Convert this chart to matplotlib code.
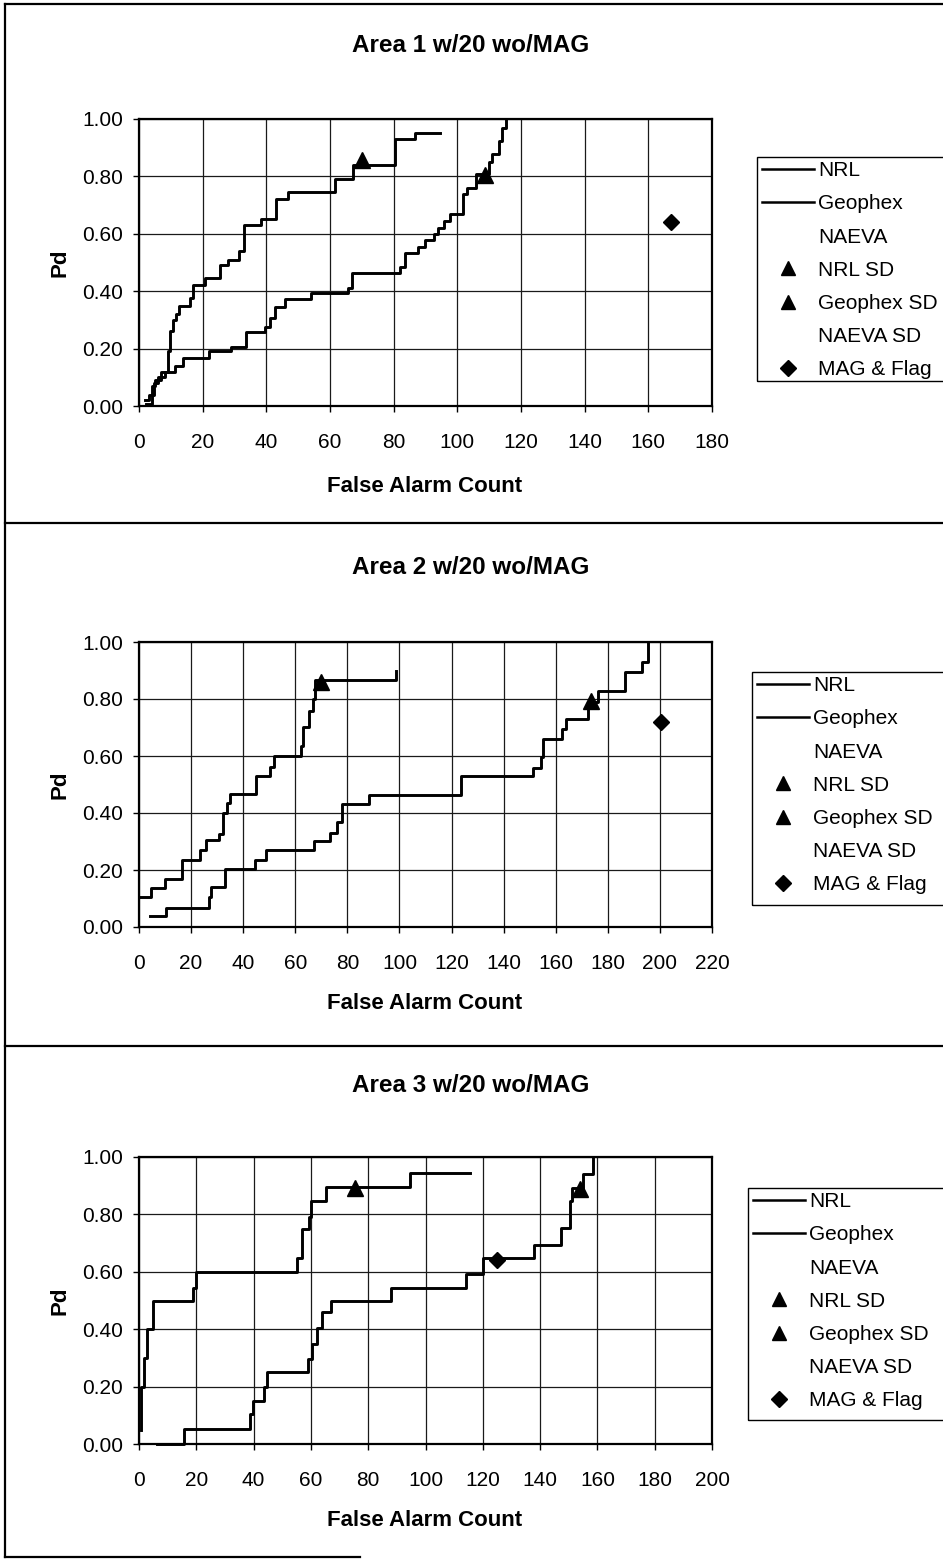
import numpy as np
import matplotlib
matplotlib.use("Agg")
import matplotlib.pyplot as plt
from matplotlib.lines import Line2D
from matplotlib.patches import Rectangle

plt.rcParams['font.family'] = ['Liberation Sans', 'DejaVu Sans']

W, H = 943, 1560

# ---- Area 1 -------------------------------------------------------------
a1_nrl_x = [2, 3, 4, 5, 7, 9, 9.8, 10.8, 11.6, 12.6, 15.9, 16.9, 20.6, 25.5,
            28.1, 31.4, 32.9, 38.2, 43, 46.8, 61.7, 67.1, 80.4, 86.8, 94.6]
a1_nrl_y = [0.02, 0.04, 0.07, 0.09, 0.12, 0.19, 0.26, 0.30, 0.32, 0.35, 0.375,
            0.42, 0.445, 0.49, 0.51, 0.54, 0.63, 0.65, 0.72, 0.745, 0.79, 0.84,
            0.93, 0.952, 0.952]
a1_geo_x = [2.3, 4.2, 4.8, 6, 8.1, 11.4, 13.9, 21.9, 28.8, 33.5, 39.7, 41, 42.7,
            45.8, 53.9, 65.8, 66.8, 81.9, 83.6, 87.7, 89.7, 92.6, 94, 95.9, 97.8,
            101.7, 103, 105.8, 110, 111, 113, 114, 115.2]
a1_geo_y = [0.007, 0.04, 0.08, 0.10, 0.12, 0.14, 0.168, 0.19, 0.207, 0.257,
            0.276, 0.305, 0.346, 0.372, 0.395, 0.41, 0.465, 0.485, 0.532, 0.555,
            0.578, 0.60, 0.62, 0.646, 0.67, 0.737, 0.76, 0.81, 0.85, 0.878, 0.923,
            0.967, 1.0]
a1_nrl_sd = (70.0, 0.857)
a1_geo_sd = (108.8, 0.805)
a1_mag = (167.0, 0.642)
a1_xmax = 180

# ---- Area 2 -------------------------------------------------------------
a2_nrl_x = [0, 4.6, 9.8, 16.7, 23.5, 25.6, 30.6, 32.2, 33.8, 35, 44.8, 50.3,
            51.9, 62.1, 62.8, 65.3, 66.9, 67.7, 98.7]
a2_nrl_y = [0.104, 0.137, 0.169, 0.236, 0.269, 0.304, 0.328, 0.40, 0.434, 0.465,
            0.53, 0.56, 0.60, 0.634, 0.703, 0.758, 0.80, 0.865, 0.90]
a2_geo_x = [4.1, 10.4, 26.7, 27.5, 33.0, 44.5, 48.6, 67.2, 73.2, 76, 78, 88.2,
            123.7, 151.3, 154.4, 155.2, 162.3, 163.9, 172.3, 176.3, 186.6, 193,
            195.4]
a2_geo_y = [0.037, 0.068, 0.104, 0.139, 0.204, 0.236, 0.269, 0.302, 0.33, 0.369,
            0.432, 0.463, 0.531, 0.558, 0.597, 0.658, 0.693, 0.729, 0.788, 0.829,
            0.894, 0.929, 1.0]
a2_nrl_sd = (69.7, 0.858)
a2_geo_sd = (173.5, 0.794)
a2_mag = (200.5, 0.72)
a2_xmax = 220

# ---- Area 3 -------------------------------------------------------------
a3_nrl_x = [0.8, 0.8, 1.7, 2.7, 4.9, 19, 20, 55, 56.8, 59.4, 60, 65.2, 94.7, 115.6]
a3_nrl_y = [0.05, 0.197, 0.30, 0.40, 0.50, 0.545, 0.60, 0.647, 0.748, 0.79,
            0.847, 0.896, 0.944, 0.944]
a3_geo_x = [6.3, 15.7, 38.8, 39.8, 43.8, 44.8, 59, 60.4, 62.3, 64, 66.9, 88.1,
            114, 120, 138, 147.2, 150.3, 151, 154.9, 158.5]
a3_geo_y = [0.0, 0.052, 0.104, 0.15, 0.20, 0.25, 0.295, 0.35, 0.405, 0.46, 0.50,
            0.545, 0.594, 0.647, 0.694, 0.754, 0.846, 0.893, 0.94, 1.0]
a3_nrl_sd = (75.3, 0.893)
a3_geo_sd = (154.1, 0.887)
a3_mag = (124.9, 0.64)
a3_xmax = 200

titles = ["Area 1 w/20 wo/MAG", "Area 2 w/20 wo/MAG", "Area 3 w/20 wo/MAG"]
legend_labels = ["NRL", "Geophex", "NAEVA", "NRL SD", "Geophex SD",
                 "NAEVA SD", "MAG & Flag"]
y_ticks = [0.0, 0.2, 0.4, 0.6, 0.8, 1.0]
x_label = "False Alarm Count"
y_label = "Pd"

FS = 15


def fx(px):
    return px / W


def fy(py):
    return 1 - py / H


fig = plt.figure(figsize=(W / 100, H / 100), dpi=100)
fig.patch.set_facecolor("white")

panels = [
    dict(nrl=(a1_nrl_x, a1_nrl_y), geo=(a1_geo_x, a1_geo_y), nsd=a1_nrl_sd,
         gsd=a1_geo_sd, mag=a1_mag, xmax=a1_xmax,
         top=119, bottom=406, title_y=45, xl_y=487, leg=(757, 157, 381)),
    dict(nrl=(a2_nrl_x, a2_nrl_y), geo=(a2_geo_x, a2_geo_y), nsd=a2_nrl_sd,
         gsd=a2_geo_sd, mag=a2_mag, xmax=a2_xmax,
         top=642, bottom=927, title_y=567, xl_y=1003, leg=(752, 672, 905)),
    dict(nrl=(a3_nrl_x, a3_nrl_y), geo=(a3_geo_x, a3_geo_y), nsd=a3_nrl_sd,
         gsd=a3_geo_sd, mag=a3_mag, xmax=a3_xmax,
         top=1157, bottom=1444, title_y=1085, xl_y=1521, leg=(748, 1188, 1420)),
]

LEFT, RIGHT = 139, 712

for title, p in zip(titles, panels):
    ax = fig.add_axes([fx(LEFT), fy(p["bottom"]), (RIGHT - LEFT) / W,
                       (p["bottom"] - p["top"]) / H])
    ax.set_xlim(0, p["xmax"])
    ax.set_ylim(0, 1.0)
    ax.set_xticks(np.arange(0, p["xmax"] + 1, 20))
    ax.set_yticks(y_ticks)
    ax.set_yticklabels([f"{v:.2f}" for v in y_ticks])
    ax.grid(True, color="#1a1a1a", lw=0.9)
    ax.set_axisbelow(True)
    ax.tick_params(axis="both", direction="out", length=4.5, width=1.0,
                   labelsize=FS, colors="black")
    ax.tick_params(axis="x", pad=15)
    ax.tick_params(axis="y", pad=7)
    for s in ax.spines.values():
        s.set_linewidth(1.6)
        s.set_color("black")

    ax.step(*p["nrl"], where="post", color="black", lw=2.1, clip_on=False)
    ax.step(*p["geo"], where="post", color="black", lw=2.1, clip_on=False)
    ax.plot(*p["nsd"], marker="^", ms=11, color="black", ls="none",
            clip_on=False)
    ax.plot(*p["gsd"], marker="^", ms=11, color="black", ls="none",
            clip_on=False)
    ax.plot(*p["mag"], marker="D", ms=8.5, color="black", ls="none",
            clip_on=False)

    fig.text(fx(471), fy(p["title_y"]), title, ha="center", va="center",
             fontsize=17.5, fontweight="bold")
    fig.text(fx(425), fy(p["xl_y"]), x_label, ha="center", va="center",
             fontsize=16, fontweight="bold")
    fig.text(fx(60), fy((p["top"] + p["bottom"]) / 2), y_label, ha="center",
             va="center", rotation=90, fontsize=16, fontweight="bold")

    handles = [
        Line2D([], [], color="black", lw=1.8),
        Line2D([], [], color="black", lw=1.8),
        Line2D([], [], color="none", lw=1.8),
        Line2D([], [], color="black", marker="^", ls="none", ms=10),
        Line2D([], [], color="black", marker="^", ls="none", ms=10),
        Line2D([], [], color="none", marker="none", ls="none"),
        Line2D([], [], color="black", marker="D", ls="none", ms=8),
    ]
    lx, ltop, lbot = p["leg"]
    fig.legend(handles, legend_labels, loc="upper left",
               bbox_to_anchor=(fx(lx), fy(ltop - 1)),
               bbox_transform=fig.transFigure, fontsize=FS,
               frameon=False, borderpad=0.25, labelspacing=0.68,
               handlelength=2.5, handletextpad=0.2, borderaxespad=0)
    # legend box runs past the right edge of the page
    fig.add_artist(Rectangle((fx(lx), fy(lbot)), fx(W + 40 - lx),
                             (lbot - ltop) / H, transform=fig.transFigure,
                             fill=False, edgecolor="black", lw=1.0))

# page frame and panel separators
frame_kw = dict(color="black", lw=1.6, transform=fig.transFigure)
fig.add_artist(Line2D([fx(5), fx(5)], [fy(4), fy(1557)], **frame_kw))
fig.add_artist(Line2D([fx(5), 1], [fy(4), fy(4)], **frame_kw))
fig.add_artist(Line2D([fx(5), fx(360)], [fy(1557), fy(1557)], **frame_kw))
fig.add_artist(Line2D([fx(5), 1], [fy(523), fy(523)], **frame_kw))
fig.add_artist(Line2D([fx(5), 1], [fy(1046), fy(1046)], **frame_kw))

fig.savefig("out.png", dpi=100, facecolor="white")
